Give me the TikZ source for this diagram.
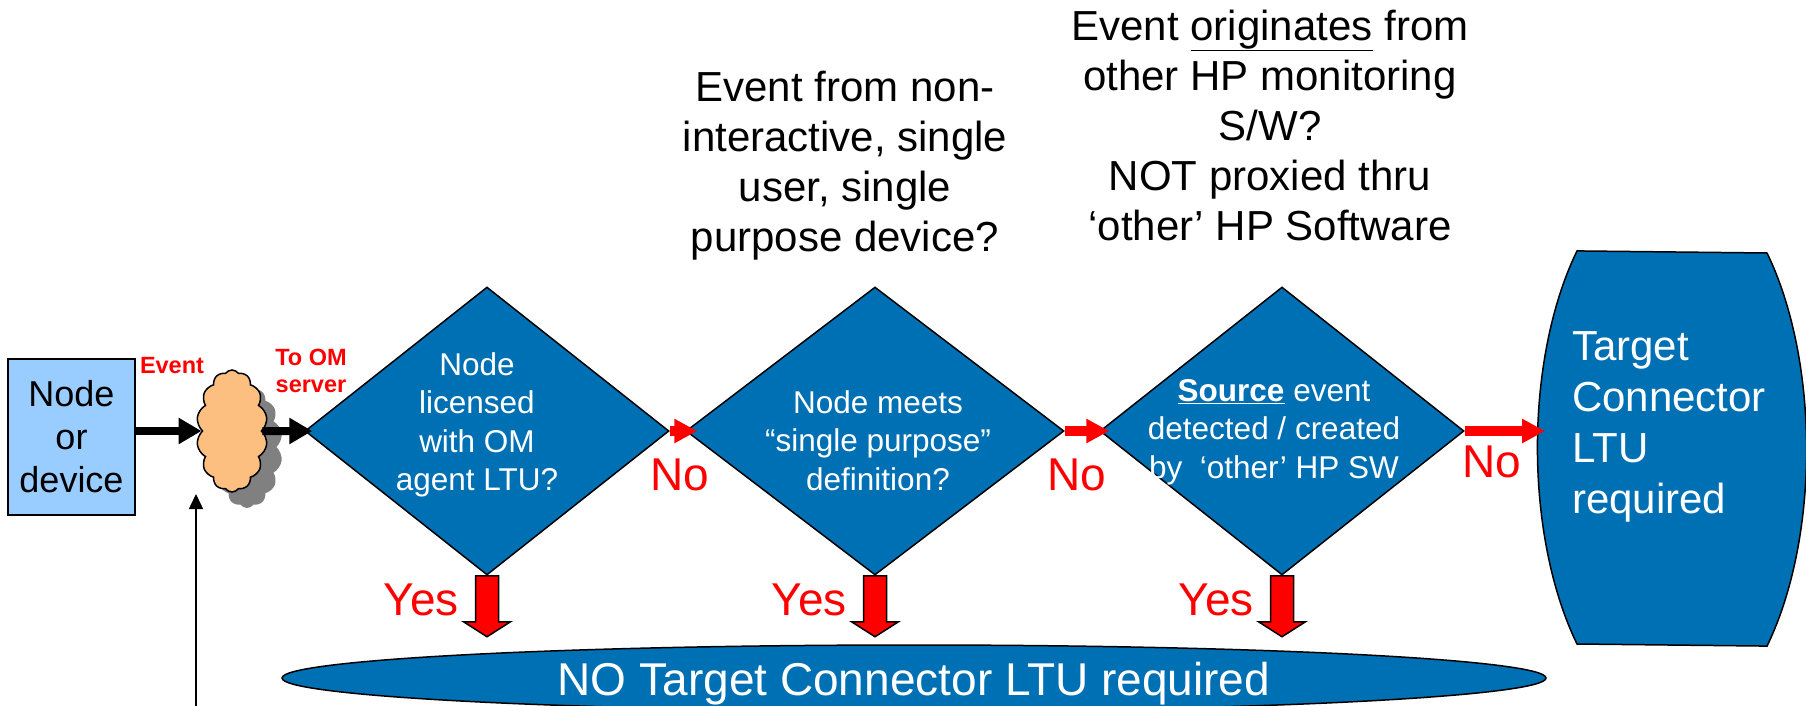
\documentclass[tikz,border=0pt]{standalone}
\usepackage{fontspec}
\setmainfont{Liberation Sans}
\usetikzlibrary{shapes.geometric,shapes.symbols,arrows.meta,calc}
\definecolor{hpblue}{RGB}{0,112,180}
\definecolor{boxblue}{RGB}{153,204,255}
\definecolor{cloudorange}{RGB}{252,191,128}
\definecolor{shadowgray}{RGB}{128,128,128}
\newcommand\myfs[2]{\fontsize{#1}{#2}\selectfont}
\begin{document}
\begin{tikzpicture}[x=1pt,y=-1pt,
  outl/.style={draw=black,line width=1.5pt},
  dia/.style={diamond,outl,fill=hpblue,minimum height=288pt,inner sep=0pt},
  dtext/.style={text=white,align=center,inner sep=0pt,font=\myfs{31.5}{38.3}},
  toptext/.style={text=black,align=center,inner sep=0pt,font=\myfs{42}{50}},
  evl/.style={text=red,align=center,inner sep=0pt,font=\myfs{23.5}{27}\bfseries},
  yesl/.style={text=red,inner sep=0pt,font=\myfs{46}{50}},
  blackarrow/.style={line width=8pt,-{Triangle[length=23pt,width=25pt]}},
  redarrow/.style={draw=red,line width=10pt,-{Triangle[length=23pt,width=23pt]},color=red},
  yesarr/.style={outl,fill=red,line join=miter},
  cloudbase/.style={cloud,cloud puffs=14,cloud puff arc=110,cloud ignores aspect,
    minimum width=71pt,minimum height=122pt,inner sep=0pt}
]
\useasboundingbox (0,0) rectangle (1806,706);

% bottom ellipse
\node[ellipse,outl,fill=hpblue,minimum width=1264pt,minimum height=66pt,inner sep=0pt] (noltu) at (914,678) {};
\node[anchor=base,text=white,inner sep=0pt,font=\myfs{46}{50}] (noltutext) at (914,695) {NO Target Connector LTU required};

% right terminator shape
\draw[outl,fill=hpblue] (1767,253) arc[start angle=-45.2,end angle=45.2,x radius=134,y radius=277]
  -- (1577,644) arc[start angle=134.8,end angle=225.2,x radius=134,y radius=277] -- cycle;
\coordinate (tcl) at (1539,431);
\node[anchor=north west,align=left,text=white,inner sep=0pt,font=\myfs{42}{51}] (tctext) at (1572,331.5)
  {Target\\Connector\\LTU\\required};

% diamonds
\node[dia,minimum width=364pt] (d1) at (487,431) {};
\node[dia,minimum width=378pt] (d2) at (875,431) {};
\node[dia,minimum width=364pt] (d3) at (1282,431) {};
\node[dtext,anchor=north] (t1) at (477,352.5) {Node\\licensed\\with OM\\agent LTU?};
\node[dtext,anchor=north] (t2) at (878,390.5) {Node meets\\“single purpose”\\definition?};
\node[dtext,anchor=north] (t3) at (1274,379.5) {\underline{\textbf{Source}} event\\detected / created\\by\ \ ‘other’ HP SW};

% top questions
\node[toptext,anchor=north] (q2) at (845,70.5) {Event from non-\\interactive, single\\user, single\\purpose device?};
\node[toptext,anchor=north] (q3) at (1270,9.5) {Event \underline{originates} from\\other HP monitoring\\S/W?\\NOT proxied thru\\‘other’ HP Software};

% source box
\node[outl,fill=boxblue,minimum width=127pt,minimum height=156pt,inner sep=0pt,align=center,font=\myfs{36}{43}] (src) at (71.5,437) {Node\\or\\device};

% cloud with shadow
\node[cloudbase,fill=shadowgray] (cshadow) at (247,447) {};
\node[cloudbase,outl,fill=cloudorange] (cld) at (232,431) {};

% labels
\node[evl,anchor=base] (evlab) at (172,373) {Event};
\node[evl,anchor=north] (omlab) at (311,349) {To OM\\server};

% black arrows
\draw[blackarrow] (src.east|-cld.west) -- (cld.west);
\draw[blackarrow,shorten >=-8pt] (cld.east) -- (d1.west);

% thin arrow from below
\coordinate (upbot) at (196,710);
\coordinate (uptop) at (196,494);
\draw[line width=1.5pt,-{Triangle[length=15pt,width=14pt]}] (upbot) -- (uptop);

% red No arrows
\draw[redarrow,shorten >=-12pt] (d1.east) -- (d2.west);
\draw[redarrow,shorten >=-10pt] (d2.east) -- (d3.west);
\draw[redarrow,shorten >=-6pt] (d3.east) -- (tcl);
\node[yesl,anchor=base west] (no1) at (650,490) {No};
\node[yesl,anchor=base west] (no2) at (1047,490) {No};
\node[yesl,anchor=base west] (no3) at (1462,477) {No};

% yes arrows
\foreach \dd in {d1,d2,d3}{
  \draw[yesarr] ([xshift=-11.5pt]\dd.south) -- ++(23,0) -- ++(0,46) -- ++(12,0) -- ++(-23.5,15) -- ++(-23.5,-15) -- ++(12,0) -- cycle;
}
\node[yesl,anchor=base east] (y1) at ($(d1.south)+(-28,40)$) {Yes};
\node[yesl,anchor=base east] (y2) at ($(d2.south)+(-28,40)$) {Yes};
\node[yesl,anchor=base east] (y3) at ($(d3.south)+(-28,40)$) {Yes};
\end{tikzpicture}
\end{document}
